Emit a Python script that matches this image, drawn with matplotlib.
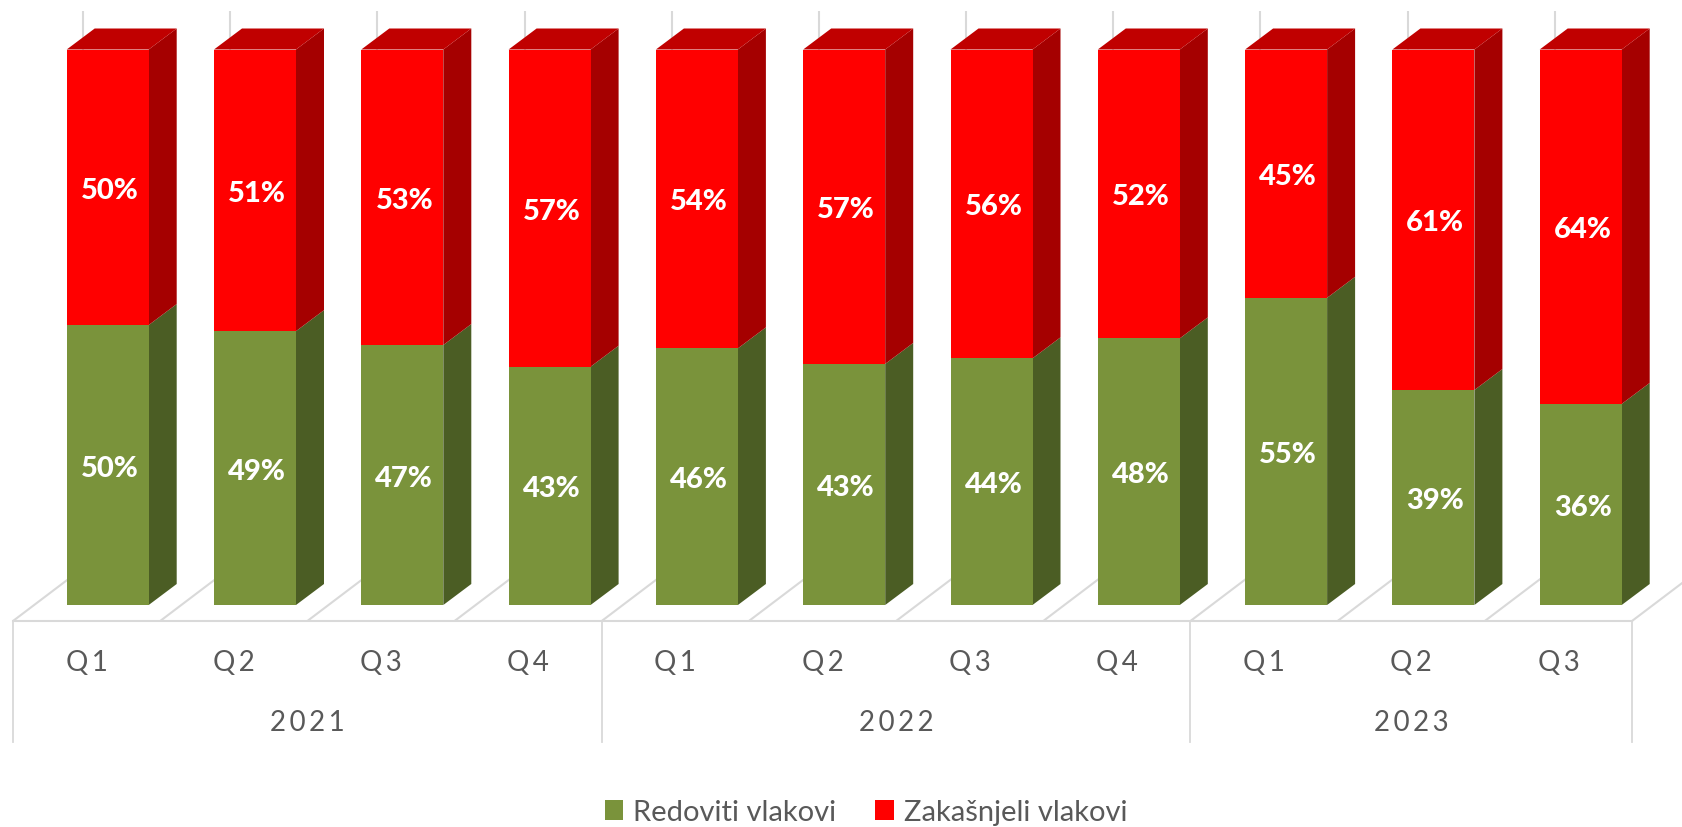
"""Stacked share of on-time and late trains per quarter, drawn as Excel-style 3D columns."""

import matplotlib
matplotlib.use("Agg")
import matplotlib.pyplot as plt
from matplotlib.patches import Polygon

quarters = ["Q1", "Q2", "Q3", "Q4", "Q1", "Q2", "Q3", "Q4", "Q1", "Q2", "Q3"]
years = ["2021", "2022", "2023"]
year_sizes = [4, 4, 3]
on_time = [50.4, 49.3, 46.8, 42.9, 46.2, 43.4, 44.4, 48.0, 55.3, 38.7, 36.2]
late = [49.6, 50.7, 53.2, 57.1, 53.8, 56.6, 55.6, 52.0, 44.7, 61.3, 63.8]

GREEN, GREEN_SIDE = "#7A933B", "#4B5D24"
RED, RED_SIDE, RED_TOP = "#FF0000", "#A50000", "#C00000"
GRID = "#D9D9D9"
TEXT = "#595959"
HAIR = "\u200a"

# pixel layout of the reference, turned into data units
PX_X, PX_Y = 147.3, 5.555
X0_PX, Y0_PX = 107.7, 606
BAR_W = 82 / PX_X
DX, DY = 28 / PX_X, 21 / PX_Y
FLOOR_DX, FLOOR_DY = 70 / PX_X, 53 / PX_Y
LEFT = (13 - X0_PX) / PX_X
STEP = 147.18 / PX_X
FLOOR_Y = -(622 - Y0_PX) / PX_Y
BOX_Y = -(743 - Y0_PX) / PX_Y
WALL_TOP = (Y0_PX - 12) / PX_Y
LABEL_DX = 2 / PX_X
LABEL_DY = 2.5 / PX_Y


def py(pixel):
    return (Y0_PX - pixel) / PX_Y


plt.rcParams["font.family"] = ["Lato", "DejaVu Sans"]
fig = plt.figure(figsize=(16.83, 8.28), dpi=100)
ax = fig.add_axes([0, 0, 1, 1])
ax.set_xlim(-X0_PX / PX_X, (1683 - X0_PX) / PX_X)
ax.set_ylim(py(828), py(0))
ax.axis("off")

n = len(quarters)
x = list(range(n))
right_edge = LEFT + n * STEP

# floor and back wall
for i in range(n + 1):
    fx = LEFT + i * STEP
    ax.plot([fx, fx + FLOOR_DX], [FLOOR_Y, FLOOR_Y + FLOOR_DY], color=GRID, lw=1.5, zorder=1, solid_capstyle="butt")
    ax.plot([fx + FLOOR_DX] * 2, [FLOOR_Y + FLOOR_DY, WALL_TOP], color=GRID, lw=1.5, zorder=1, solid_capstyle="butt")
ax.plot([LEFT, right_edge], [FLOOR_Y, FLOOR_Y], color=GRID, lw=1.5, zorder=1)

# multi level category axis
start = 0
ax.plot([LEFT, LEFT], [FLOOR_Y, BOX_Y], color=GRID, lw=1.3, zorder=1)
for year, size in zip(years, year_sizes):
    end = start + size
    ax.plot([LEFT + end * STEP] * 2, [FLOOR_Y, BOX_Y], color=GRID, lw=1.3, zorder=1)
    ax.text(LEFT + (start + end) / 2 * STEP, py(723), (HAIR * 2).join(year), ha="center", va="center",
            fontsize=20, color=TEXT)
    start = end
for i, q in enumerate(quarters):
    ax.text(LEFT + (i + 0.5) * STEP, py(663), (HAIR * 2).join(q), ha="center", va="center", fontsize=20, color=TEXT)

# front faces
green_bars = ax.bar(x, on_time, BAR_W, color=GREEN, zorder=3, label="Redoviti vlakovi")
red_bars = ax.bar(x, late, BAR_W, bottom=on_time, color=RED, zorder=3, label="Zakašnjeli vlakovi")

# side and top faces
for i in x:
    r = i + BAR_W / 2
    l = i - BAR_W / 2
    g = on_time[i]
    t = g + late[i]
    ax.add_patch(Polygon([(r, 0), (r + DX, DY), (r + DX, g + DY), (r, g)], fc=GREEN_SIDE, ec="none", zorder=2))
    ax.add_patch(Polygon([(r, g), (r + DX, g + DY), (r + DX, t + DY), (r, t)], fc=RED_SIDE, ec="none", zorder=2))
    ax.add_patch(Polygon([(l, t), (l + DX, t + DY), (r + DX, t + DY), (r, t)], fc=RED_TOP, ec="none", zorder=2))
    ax.text(i + LABEL_DX, g / 2 - LABEL_DY, f"{g:.0f}%", ha="center", va="center", color="white",
            fontsize=21, fontweight=900, zorder=4)
    ax.text(i + LABEL_DX, g + late[i] / 2 - LABEL_DY, f"{late[i]:.0f}%", ha="center", va="center", color="white",
            fontsize=21, fontweight=900, zorder=4)

ax.legend(handles=[green_bars, red_bars], loc="center", bbox_to_anchor=(866 / 1683, 1 - 813 / 828), ncol=2,
          frameon=False, fontsize=21, labelcolor=TEXT, handlelength=0.62, handleheight=0.7,
          handletextpad=0.35, columnspacing=1.35, borderpad=0, borderaxespad=0)

fig.savefig("out.png", dpi=100)
plt.close(fig)
